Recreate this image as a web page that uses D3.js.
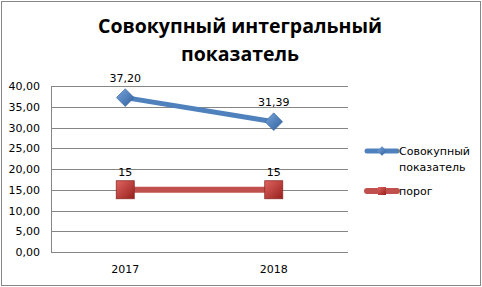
<!DOCTYPE html>
<html>
<head>
<meta charset="utf-8">
<script src="https://cdn.jsdelivr.net/npm/d3@7"></script>
<style>
	body { margin: 0; background: #fff; }
	svg text { font-family: "DejaVu Sans", Verdana, sans-serif; }
</style>
</head>
<body>
<div class="chart"></div>
<script>
var years = ["2017", "2018"];
var totalValues = [37.20, 31.39];
var thresholdValues = [15, 15];
var seriesNames = ["Совокупный показатель", "порог"];
var yTicks = [0, 5, 10, 15, 20, 25, 30, 35, 40];

var W = 482, H = 287;
var margin = { top: 86, right: 134, bottom: 35, left: 51 },
	width = W - margin.left - margin.right,
	height = H - margin.top - margin.bottom;

var svg = d3.select(".chart").append("svg")
	.attr("width", W)
	.attr("height", H);

// outer frame
svg.append("rect")
	.attr("x", 1.5).attr("y", 1.5)
	.attr("width", W - 3).attr("height", H - 3)
	.attr("fill", "#fff")
	.attr("stroke", "#868686");

// title
var title = svg.append("text")
	.attr("text-anchor", "middle")
	.attr("font-weight", "bold")
	.attr("font-size", "19.5px")
	.style("font-family", "'Open Sans', sans-serif")
	.attr("fill", "#000");
title.append("tspan").attr("x", 240).attr("y", 33).text("Совокупный интегральный");
title.append("tspan").attr("x", 240).attr("y", 61).text("показатель");

var g = svg.append("g")
	.attr("transform", "translate(" + margin.left + "," + margin.top + ")");

var x = d3.scaleBand().domain(years).range([0, width]);
var y = d3.scaleLinear().domain([0, 40]).range([height, 0]);

// gridlines
g.selectAll(".grid")
	.data(yTicks)
	.enter().append("line")
	.attr("x1", 0).attr("x2", width)
	.attr("y1", function (d) { return Math.round(y(d)) + 0.5; })
	.attr("y2", function (d) { return Math.round(y(d)) + 0.5; })
	.attr("stroke", "#868686");

// y axis
var yAxis = g.append("g")
	.call(d3.axisLeft(y).tickValues(yTicks).tickSize(0).tickPadding(11)
		.tickFormat(function (d) { return d3.format(".2f")(d).replace(".", ","); }));
yAxis.select(".domain").attr("stroke", "#868686");
yAxis.selectAll("text").attr("font-size", "11px").attr("fill", "#000")
	.style("font-family", "'DejaVu Sans', sans-serif");

// x axis
var xAxis = g.append("g")
	.attr("transform", "translate(0," + height + ")")
	.call(d3.axisBottom(x).tickSize(0).tickPadding(13));
xAxis.select(".domain").remove();
xAxis.selectAll("text").attr("font-size", "11px").attr("fill", "#000");

var line = d3.line()
	.x(function (d, i) { return x(years[i]) + x.bandwidth() / 2; })
	.y(function (d) { return y(d); });

var defs = svg.append("defs");
var gb = defs.append("linearGradient").attr("id", "gBlue").attr("x1", 0).attr("y1", 0).attr("x2", 1).attr("y2", 1);
gb.append("stop").attr("offset", "0%").attr("stop-color", "#7aa6dc");
gb.append("stop").attr("offset", "100%").attr("stop-color", "#2f5f9c");
var gr = defs.append("linearGradient").attr("id", "gRed").attr("x1", 0).attr("y1", 0).attr("x2", 1).attr("y2", 1);
gr.append("stop").attr("offset", "0%").attr("stop-color", "#e06460");
gr.append("stop").attr("offset", "100%").attr("stop-color", "#96201d");

// threshold series
g.append("path")
	.datum(thresholdValues)
	.attr("d", line)
	.attr("fill", "none")
	.attr("stroke", "#c0504d")
	.attr("stroke-width", 6);

g.selectAll(".sq")
	.data(thresholdValues)
	.enter().append("rect")
	.attr("x", function (d, i) { return x(years[i]) + x.bandwidth() / 2 - 9; })
	.attr("y", function (d) { return y(d) - 9; })
	.attr("width", 18).attr("height", 18)
	.attr("fill", "url(#gRed)")
	.attr("stroke", "#8c2a27").attr("stroke-width", 0.8);

// total series
g.append("path")
	.datum(totalValues)
	.attr("d", line)
	.attr("fill", "none")
	.attr("stroke", "#4f81bd")
	.attr("stroke-width", 5);

var diamond = d3.symbol().type(d3.symbolDiamond2).size(200);
g.selectAll(".dm")
	.data(totalValues)
	.enter().append("path")
	.attr("d", diamond)
	.attr("transform", function (d, i) {
		return "translate(" + (x(years[i]) + x.bandwidth() / 2) + "," + y(d) + ")";
	})
	.attr("fill", "url(#gBlue)")
	.attr("stroke", "#2f5f9c").attr("stroke-width", 0.6);

// data labels
g.selectAll(".lblT")
	.data(totalValues)
	.enter().append("text")
	.attr("x", function (d, i) { return x(years[i]) + x.bandwidth() / 2; })
	.attr("y", function (d) { return y(d) - 16; })
	.attr("text-anchor", "middle")
	.attr("font-size", "11px")
	.text(function (d) { return d3.format(".2f")(d).replace(".", ","); });

g.selectAll(".lblR")
	.data(thresholdValues)
	.enter().append("text")
	.attr("x", function (d, i) { return x(years[i]) + x.bandwidth() / 2; })
	.attr("y", function (d) { return y(d) - 14; })
	.attr("text-anchor", "middle")
	.attr("font-size", "11px")
	.text(function (d) { return d; });

// legend
var lx = 367;
var leg1 = svg.append("g").attr("transform", "translate(" + lx + ",151)");
leg1.append("line").attr("x1", 0).attr("x2", 30).attr("stroke", "#4f81bd").attr("stroke-width", 5)
	.attr("stroke-linecap", "round");
leg1.append("path").attr("d", d3.symbol().type(d3.symbolDiamond2).size(60))
	.attr("transform", "translate(15,0)").attr("fill", "url(#gBlue)");
var t1 = leg1.append("text").attr("font-size", "11px").attr("x", 32).attr("y", 4);
t1.append("tspan").attr("x", 32).text("Совокупный");
t1.append("tspan").attr("x", 32).attr("dy", 16).text("показатель");

var leg2 = svg.append("g").attr("transform", "translate(" + lx + ",191)");
leg2.append("line").attr("x1", 0).attr("x2", 30).attr("stroke", "#c0504d").attr("stroke-width", 6)
	.attr("stroke-linecap", "round");
leg2.append("rect").attr("x", 11).attr("y", -4).attr("width", 8).attr("height", 8)
	.attr("fill", "url(#gRed)");
leg2.append("text").attr("font-size", "11px").attr("x", 32).attr("y", 4).text(seriesNames[1]);
</script>
</body>
</html>
